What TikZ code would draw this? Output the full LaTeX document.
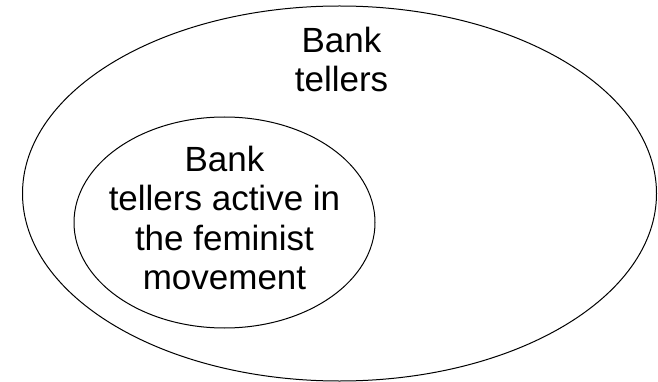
\documentclass[tikz,border=0pt]{standalone}
\usepackage{fontspec}
\setmainfont{Liberation Sans}
\begin{document}
\begin{tikzpicture}[x=1pt,y=-1pt,
  setline/.style={draw=black,line width=1pt},
  settext/.style={font=\fontsize{35}{39.5}\selectfont,align=center,inner sep=0pt}]
\useasboundingbox (0,0) rectangle (658,382);
\draw[setline] (339.5,193.5) ellipse [x radius=317, y radius=187.5];
\draw[setline] (224.5,222.5) ellipse [x radius=150.5, y radius=105.5];
\node[settext] (outer) at (341.5,59.5) {Bank\\tellers};
\node[settext] (inner) at (224.5,218) {Bank\\tellers active in\\the feminist\\movement};
\end{tikzpicture}
\end{document}
